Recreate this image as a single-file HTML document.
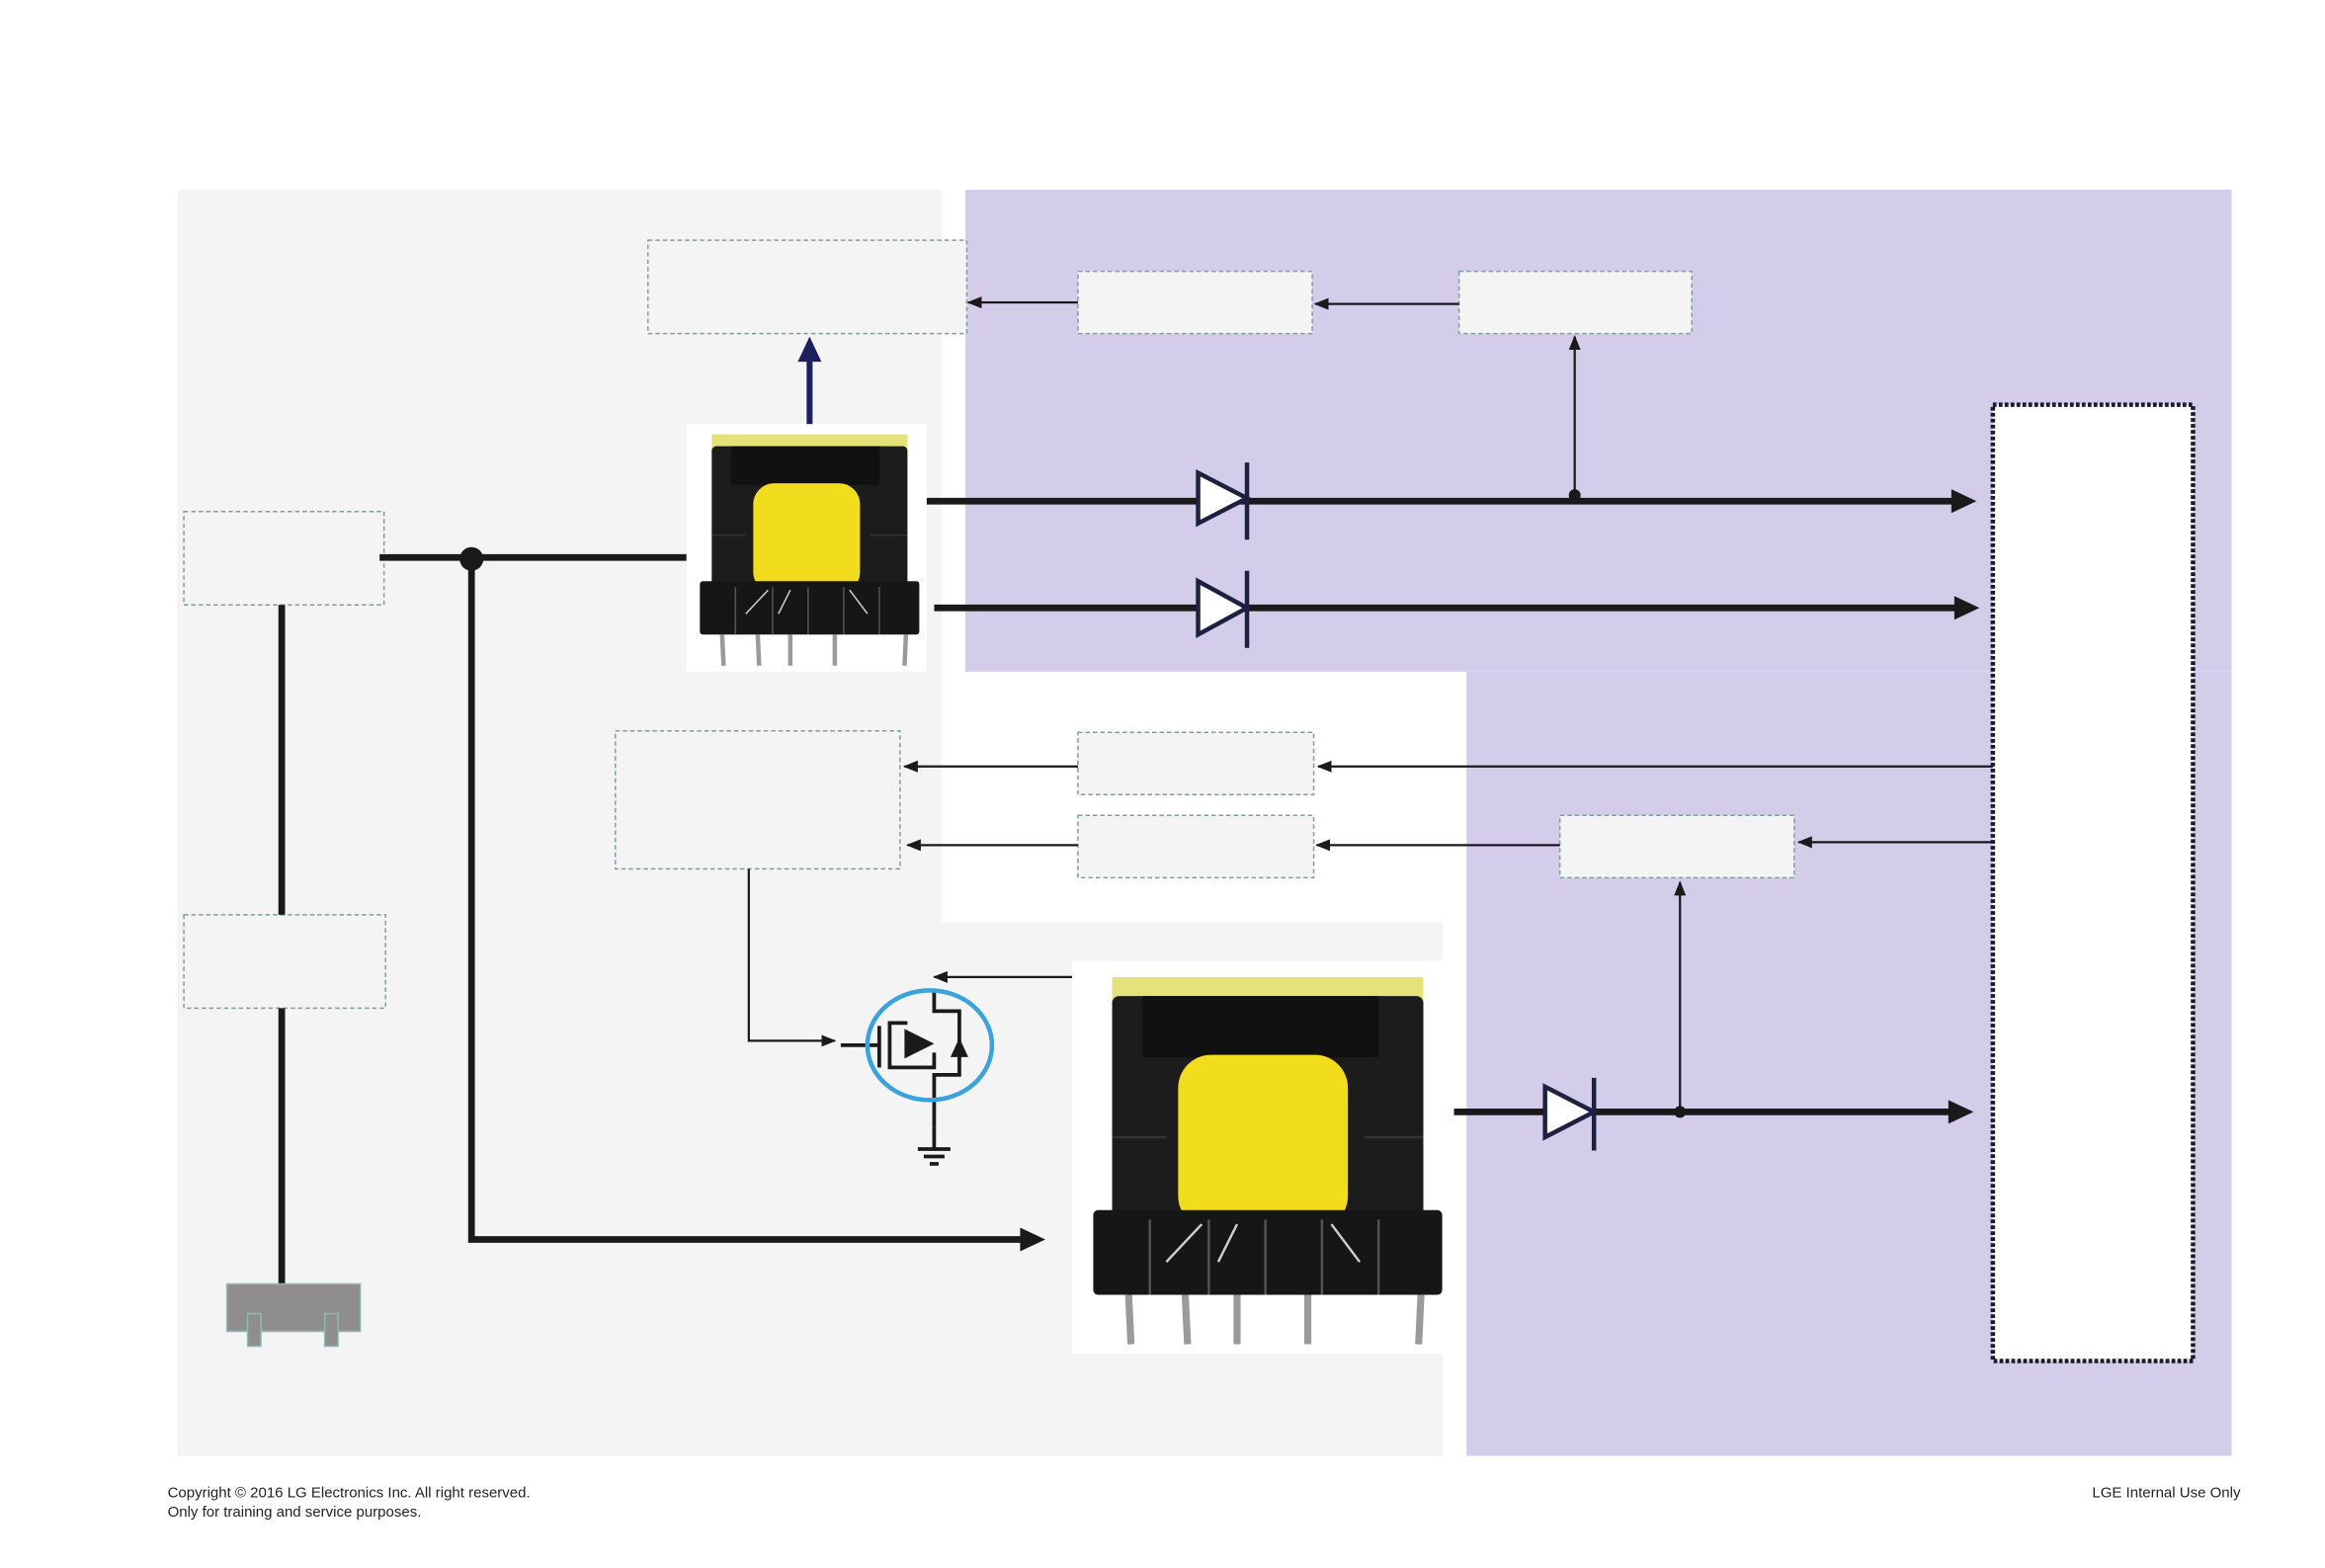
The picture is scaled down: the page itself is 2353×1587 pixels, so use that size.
<!DOCTYPE html>
<html><head><meta charset="utf-8"><style>
html,body{margin:0;padding:0;background:#fff;}
svg{display:block;}
</style></head><body>
<svg width="2353" height="1587" viewBox="0 0 1568 1057.6" preserveAspectRatio="none" xmlns="http://www.w3.org/2000/svg" font-family="Liberation Sans, sans-serif">
<defs>
<g id="tr">
<rect x="0" y="0" width="162" height="167" fill="#fff"/>
<rect x="17" y="7" width="132" height="14" fill="#e6e27a"/>
<rect x="17" y="15" width="132" height="98" rx="3" fill="#1c1c1c"/>
<rect x="30" y="15" width="100" height="26" fill="#111"/>
<rect x="45" y="40" width="72" height="74" rx="14" fill="#f2dc1e"/>
<line x1="17" y1="75" x2="40" y2="75" stroke="#333" stroke-width="1"/>
<line x1="124" y1="75" x2="149" y2="75" stroke="#333" stroke-width="1"/>
<rect x="9" y="106" width="148" height="36" rx="2" fill="#161616"/>
<g stroke="#555" stroke-width="1"><line x1="33" y1="110" x2="33" y2="142"/><line x1="58" y1="110" x2="58" y2="142"/><line x1="82" y1="110" x2="82" y2="142"/><line x1="106" y1="110" x2="106" y2="142"/><line x1="130" y1="110" x2="130" y2="142"/></g>
<g stroke="#cfcfcf" stroke-width="1"><line x1="55" y1="112" x2="40" y2="128"/><line x1="70" y1="112" x2="62" y2="128"/><line x1="110" y1="112" x2="122" y2="128"/></g>
<g stroke="#9a9a9a" stroke-width="3"><line x1="24" y1="142" x2="25" y2="163"/><line x1="48" y1="142" x2="49" y2="163"/><line x1="70" y1="142" x2="70" y2="163"/><line x1="100" y1="142" x2="100" y2="163"/><line x1="148" y1="142" x2="147" y2="163"/></g>
</g>
<marker id="ah" markerWidth="10" markerHeight="10" refX="9" refY="5" orient="auto" markerUnits="userSpaceOnUse"><path d="M0,1 L10,5 L0,9 z" fill="#1a1a1a"/></marker>
</defs>
<rect x="120" y="128" width="515" height="854" fill="#f4f4f4"/>
<rect x="635" y="622" width="338" height="360" fill="#f4f4f4"/>
<rect x="651" y="128" width="854" height="325" fill="#d4cdea"/>
<rect x="989" y="453" width="516" height="529" fill="#d4cdea"/>
<g fill="#f4f4f4" stroke="#7f9e9e" stroke-width="1" stroke-dasharray="3,2">
<rect x="437" y="162" width="215" height="63"/>
<rect x="727" y="183" width="158" height="42"/>
<rect x="984" y="183" width="157" height="42"/>
<rect x="124" y="345" width="135" height="63"/>
<rect x="124" y="617" width="136" height="63"/>
<rect x="415" y="493" width="192" height="93"/>
<rect x="727" y="494" width="159" height="42"/>
<rect x="727" y="550" width="159" height="42"/>
<rect x="1052" y="550" width="158" height="42"/>
</g>
<rect x="1344" y="273" width="135" height="645" fill="#fff" stroke="#1a1a2a" stroke-width="3" stroke-dasharray="2.5,1.5"/>
<g stroke="#1a1a1a" stroke-width="1.5" fill="none" marker-end="url(#ah)">
<line x1="727" y1="204" x2="653" y2="204"/>
<line x1="984" y1="205" x2="887" y2="205"/>
<line x1="1062" y1="333" x2="1062" y2="227"/>
<line x1="727" y1="517" x2="610" y2="517"/>
<line x1="1344" y1="517" x2="889" y2="517"/>
<line x1="727" y1="570" x2="612" y2="570"/>
<line x1="1052" y1="570" x2="888" y2="570"/>
<line x1="1344" y1="568" x2="1213" y2="568"/>
<line x1="1133" y1="750" x2="1133" y2="595"/>
<polyline points="505,586 505,702 563,702"/>
<line x1="723" y1="659" x2="630" y2="659"/>
</g>
<line x1="546" y1="289" x2="546" y2="240" stroke="#1d2060" stroke-width="4"/>
<path d="M538,244 L546,227 L554,244 z" fill="#1d2060"/>
<g stroke="#1a1a1a" stroke-width="4.5" fill="none">
<line x1="256" y1="376" x2="463" y2="376"/>
<line x1="190" y1="408" x2="190" y2="617"/>
<line x1="190" y1="680" x2="190" y2="866"/>
<polyline points="318,376 318,836 690,836"/>
<line x1="617" y1="338" x2="1318" y2="338"/>
<line x1="630" y1="410" x2="1320" y2="410"/>
<line x1="963" y1="750" x2="1316" y2="750"/>
</g>
<g fill="#1a1a1a">
<path d="M1316,330 L1333,338 L1316,346 z"/>
<path d="M1318,402 L1335,410 L1318,418 z"/>
<path d="M1314,742 L1331,750 L1314,758 z"/>
<path d="M688,828 L705,836 L688,844 z"/>
<circle cx="318" cy="377" r="8"/>
<circle cx="1062" cy="334" r="4"/>
<circle cx="1133" cy="750" r="4"/>
</g>
<g stroke="#1d2040" stroke-width="3" fill="#fff">
<path d="M808,319 L841,336 L808,353 z"/>
<line x1="841" y1="312" x2="841" y2="364"/>
<path d="M808,392 L841,410 L808,428 z"/>
<line x1="841" y1="385" x2="841" y2="437"/>
<path d="M1042,733 L1075,750 L1042,767 z"/>
<line x1="1075" y1="727" x2="1075" y2="776"/>
</g>
<use href="#tr" x="463" y="286"/>
<use href="#tr" transform="translate(723,648) scale(1.59,1.587)"/>
<g stroke="#1a1a1a" stroke-width="2.5" fill="none">
<line x1="567" y1="705" x2="593" y2="705"/>
<line x1="593" y1="692" x2="593" y2="720"/>
<polyline points="630,667 630,682 647,682 647,725 630,725 630,760"/>
<polyline points="612,690 600,690 600,720 630,720 630,710"/>
<line x1="619" y1="775" x2="641" y2="775"/>
<line x1="623" y1="780" x2="637" y2="780"/>
<line x1="627" y1="785" x2="633" y2="785"/>
<line x1="630" y1="760" x2="630" y2="775"/>
</g>
<path d="M610,694 L630,704 L610,714 z" fill="#1a1a1a"/>
<path d="M641,713 L647,700 L653,713 z" fill="#1a1a1a"/>
<ellipse cx="627" cy="705" rx="42" ry="37" fill="none" stroke="#3aa2dc" stroke-width="3"/>
<rect x="153" y="866" width="90" height="32" fill="#8f8d8e" stroke="#8fbab0" stroke-width="1"/>
<rect x="167" y="886" width="9" height="22" fill="#8f8d8e" stroke="#8fbab0" stroke-width="1"/>
<rect x="219" y="886" width="9" height="22" fill="#8f8d8e" stroke="#8fbab0" stroke-width="1"/>
<text x="113" y="1010" font-size="10" fill="#222">Copyright © 2016 LG Electronics Inc. All right reserved.</text>
<text x="113" y="1023" font-size="10" fill="#222">Only for training and service purposes.</text>
<text x="1511" y="1010" font-size="10" fill="#222" text-anchor="end">LGE Internal Use Only</text>
</svg>
</body></html>
